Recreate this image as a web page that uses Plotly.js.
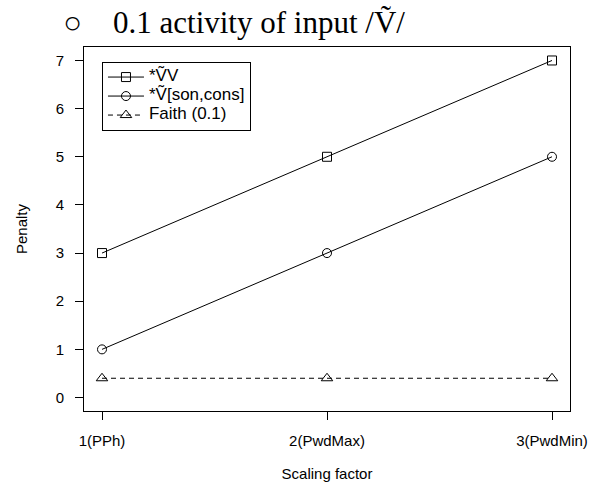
<!DOCTYPE html>
<html><head><meta charset="utf-8">
<script src="https://cdn.plot.ly/plotly-3.0.1.min.js"></script>
<style>body{margin:0;background:#fff}#c{width:597px;height:482px}</style>
</head><body><div id="c"></div>
<script>
const categories = ["1(PPh)", "2(PwdMax)", "3(PwdMin)"];
const seriesNames = ["*V\u0303V", "*V\u0303[son,cons]", "Faith (0.1)"];
const vvValues = [3, 5, 7];
const sonConsValues = [1, 3, 5];
const faithValues = [0.4, 0.4, 0.4];
const yTicks = [0, 1, 2, 3, 4, 5, 6, 7];

const xIdx = categories.map((c, i) => i + 1);
const lg = s => '<span style="font-size:17px">' + s + '</span>';
const common = {x: xIdx, type: 'scatter', mode: 'lines+markers', cliponaxis: false};
const traces = [
  Object.assign({}, common, {y: vvValues, name: lg(seriesNames[0]),
    line: {color: '#000', width: 1}, marker: {symbol: 'square-open', size: 9, color: '#000', line: {width: 1}}}),
  Object.assign({}, common, {y: sonConsValues, name: lg(seriesNames[1]),
    line: {color: '#000', width: 1}, marker: {symbol: 'circle-open', size: 9, color: '#000', line: {width: 1}}}),
  Object.assign({}, common, {y: faithValues, name: lg(seriesNames[2]),
    line: {color: '#000', width: 1, dash: '5px,4px'}, marker: {symbol: 'triangle-up-open', size: 10, color: '#000', line: {width: 1}}})
];
const font = {family: 'Liberation Sans, Arial, sans-serif', color: '#000'};
const layout = {
  width: 597, height: 482,
  margin: {l: 84, r: 27, t: 47, b: 71},
  paper_bgcolor: '#fff', plot_bgcolor: '#fff',
  font: Object.assign({size: 15}, font),
  showlegend: true,
  title: {text: '\u25CB\u20030.1 activity of input /V\u0303/', x: 0.106, xanchor: 'left', y: 0.955, yanchor: 'middle',
    font: {family: 'Liberation Serif, Times New Roman, serif', size: 31, color: '#000'}},
  xaxis: {range: [0.92, 3.08], tickvals: xIdx, ticktext: categories, showgrid: false, zeroline: false,
    showline: true, mirror: true, linecolor: '#000', linewidth: 1,
    ticks: 'outside', ticklen: 8, tickcolor: '#000', tickfont: {size: 15}, ticklabelstandoff: 8,
    title: {text: 'Scaling factor', font: {size: 15}, standoff: 26}},
  yaxis: {range: [-0.28, 7.28], tickvals: yTicks, showgrid: false, zeroline: false,
    showline: true, mirror: true, linecolor: '#000', linewidth: 1,
    ticks: 'outside', ticklen: 8, tickcolor: '#000', tickfont: {size: 15}, ticklabelstandoff: 8,
    title: {text: 'Penalty', font: {size: 15}, standoff: 24}},
  legend: {x: 0.037, y: 0.96, xanchor: 'left', yanchor: 'top', bgcolor: '#fff',
    bordercolor: '#000', borderwidth: 1, font: {size: 11, color: '#000'},
    itemwidth: 36, tracegroupgap: 0}
};
Plotly.newPlot('c', traces, layout, {displayModeBar: false, staticPlot: true});
</script></body></html>
